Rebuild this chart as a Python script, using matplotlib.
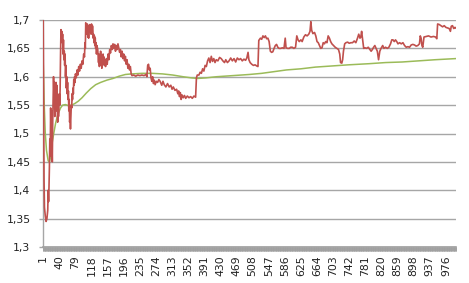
import matplotlib
matplotlib.use("Agg")
import matplotlib.pyplot as plt
import numpy as np
from matplotlib.ticker import FixedLocator

# ---------------- data ----------------
n_points = 1000
x_tick_labels = [str(v) for v in range(1, 1001, 39)]
y_ticks = [1.3, 1.35, 1.4, 1.45, 1.5, 1.55, 1.6, 1.65, 1.7]
y_tick_labels = ["1,3", "1,35", "1,4", "1,45", "1,5", "1,55", "1,6", "1,65", "1,7"]

red_x = [1, 2, 3, 4, 6, 8, 10, 12, 13, 14, 15, 16, 17, 18, 19, 20, 21, 22, 23, 24, 25, 26, 27, 28, 29, 30,
         31, 32, 33, 34, 36, 37, 38, 40, 41, 42, 43, 44, 45, 46, 47, 48, 49, 50, 51, 52, 53, 54, 55, 56, 57,
         58, 59, 60, 61, 62, 63, 64, 65, 66, 67, 68, 69, 70, 71, 72, 73, 74, 75, 76, 77, 78, 79, 81, 83, 85,
         87, 89, 91, 93, 95, 97, 99, 101, 102, 103, 104, 105, 106, 107, 108, 109, 110, 111, 112, 113, 114,
         115, 116, 117, 118, 119, 120, 121, 122, 123, 124, 125, 126, 127, 128, 129, 130, 131, 133, 135, 136,
         137, 138, 139, 140, 141, 142, 143, 144, 145, 146, 147, 148, 149, 150, 152, 154, 156, 158, 160, 162,
         164, 166, 168, 170, 172, 174, 176, 178, 180, 182, 184, 186, 188, 190, 192, 194, 196, 198, 200, 202,
         204, 206, 208, 210, 212, 214, 216, 220, 225, 230, 235, 240, 245, 250, 252, 254, 256, 258, 260, 262,
         264, 266, 268, 270, 272, 275, 278, 281, 284, 288, 291, 294, 298, 302, 306, 310, 313, 316, 320, 324,
         327, 329, 331, 333, 335, 337, 340, 343, 346, 350, 354, 358, 362, 366, 370, 372, 374, 378, 381, 384,
         387, 390, 393, 396, 399, 402, 405, 408, 411, 414, 417, 420, 424, 428, 432, 436, 440, 443, 447, 451,
         455, 459, 463, 467, 471, 475, 479, 483, 487, 491, 494, 497, 499, 502, 506, 510, 514, 518, 521, 523,
         527, 530, 533, 536, 539, 542, 545, 548, 551, 554, 557, 560, 563, 566, 569, 572, 576, 580, 584, 587,
         589, 593, 597, 600, 604, 608, 612, 615, 618, 621, 625, 628, 632, 636, 640, 644, 647, 649, 651, 654,
         658, 661, 664, 667, 670, 673, 676, 679, 682, 685, 688, 691, 694, 697, 700, 704, 708, 712, 716, 719,
         721, 724, 726, 728, 731, 734, 738, 742, 746, 750, 754, 758, 762, 765, 768, 770, 772, 774, 777, 780,
         784, 788, 792, 795, 798, 801, 804, 807, 810, 813, 816, 819, 823, 826, 830, 834, 838, 842, 845, 848,
         851, 854, 857, 860, 864, 868, 872, 876, 880, 884, 888, 892, 896, 900, 904, 908, 912, 914, 916, 918,
         920, 923, 928, 934, 940, 946, 951, 954, 956, 960, 964, 968, 972, 976, 980, 984, 987, 989, 992, 995,
         998, 1000]
red_y = [1.700, 1.560, 1.420, 1.370, 1.355, 1.345, 1.350, 1.365, 1.400, 1.380, 1.405, 1.440, 1.490, 1.460,
         1.545, 1.500, 1.540, 1.490, 1.450, 1.520, 1.560, 1.600, 1.570, 1.590, 1.530, 1.580, 1.560, 1.590,
         1.540, 1.585, 1.520, 1.560, 1.530, 1.570, 1.550, 1.580, 1.640, 1.683, 1.670, 1.680, 1.660, 1.675,
         1.640, 1.665, 1.630, 1.645, 1.620, 1.640, 1.600, 1.620, 1.580, 1.600, 1.570, 1.590, 1.560, 1.575,
         1.540, 1.560, 1.520, 1.530, 1.508, 1.530, 1.550, 1.545, 1.570, 1.560, 1.580, 1.570, 1.595, 1.585,
         1.600, 1.590, 1.605, 1.598, 1.612, 1.603, 1.618, 1.610, 1.622, 1.615, 1.628, 1.622, 1.640, 1.635,
         1.660, 1.650, 1.695, 1.680, 1.690, 1.675, 1.693, 1.670, 1.688, 1.668, 1.690, 1.680, 1.692, 1.683,
         1.690, 1.675, 1.693, 1.678, 1.690, 1.688, 1.668, 1.675, 1.660, 1.672, 1.655, 1.668, 1.650, 1.660,
         1.640, 1.655, 1.648, 1.625, 1.640, 1.618, 1.636, 1.620, 1.645, 1.628, 1.638, 1.615, 1.632, 1.622,
         1.640, 1.625, 1.635, 1.620, 1.630, 1.618, 1.632, 1.622, 1.640, 1.630, 1.648, 1.642, 1.655, 1.648,
         1.658, 1.650, 1.657, 1.645, 1.655, 1.648, 1.658, 1.650, 1.643, 1.648, 1.635, 1.645, 1.632, 1.640,
         1.628, 1.636, 1.622, 1.630, 1.615, 1.622, 1.612, 1.618, 1.605, 1.602, 1.603, 1.601, 1.603, 1.602,
         1.603, 1.602, 1.604, 1.600, 1.620, 1.622, 1.612, 1.615, 1.598, 1.592, 1.600, 1.588, 1.594, 1.586,
         1.592, 1.590, 1.595, 1.592, 1.585, 1.592, 1.586, 1.582, 1.588, 1.582, 1.585, 1.578, 1.582, 1.576,
         1.578, 1.570, 1.575, 1.565, 1.572, 1.560, 1.568, 1.563, 1.567, 1.562, 1.566, 1.563, 1.565, 1.562,
         1.566, 1.564, 1.598, 1.603, 1.603, 1.608, 1.606, 1.614, 1.610, 1.620, 1.618, 1.628, 1.633, 1.625,
         1.636, 1.627, 1.632, 1.625, 1.630, 1.628, 1.634, 1.632, 1.628, 1.625, 1.630, 1.625, 1.628, 1.633,
         1.628, 1.632, 1.626, 1.633, 1.630, 1.632, 1.628, 1.631, 1.629, 1.633, 1.643, 1.630, 1.625, 1.622,
         1.620, 1.621, 1.619, 1.618, 1.664, 1.668, 1.666, 1.672, 1.669, 1.672, 1.667, 1.668, 1.662, 1.645,
         1.643, 1.644, 1.650, 1.655, 1.657, 1.652, 1.650, 1.650, 1.651, 1.650, 1.668, 1.651, 1.650, 1.650,
         1.652, 1.652, 1.650, 1.652, 1.672, 1.665, 1.662, 1.665, 1.662, 1.670, 1.674, 1.672, 1.675, 1.680,
         1.697, 1.682, 1.676, 1.678, 1.672, 1.662, 1.660, 1.655, 1.650, 1.651, 1.660, 1.658, 1.662, 1.660,
         1.672, 1.668, 1.662, 1.658, 1.655, 1.652, 1.650, 1.648, 1.640, 1.625, 1.624, 1.630, 1.645, 1.658,
         1.660, 1.661, 1.659, 1.660, 1.660, 1.663, 1.660, 1.668, 1.675, 1.668, 1.670, 1.680, 1.668, 1.650,
         1.651, 1.650, 1.652, 1.648, 1.645, 1.648, 1.652, 1.655, 1.650, 1.645, 1.630, 1.645, 1.650, 1.655,
         1.650, 1.652, 1.650, 1.652, 1.658, 1.665, 1.665, 1.662, 1.665, 1.662, 1.658, 1.660, 1.658, 1.660,
         1.655, 1.652, 1.653, 1.652, 1.656, 1.657, 1.656, 1.654, 1.655, 1.658, 1.672, 1.668, 1.655, 1.652,
         1.670, 1.671, 1.672, 1.670, 1.671, 1.670, 1.667, 1.693, 1.692, 1.690, 1.688, 1.690, 1.687, 1.686,
         1.685, 1.680, 1.689, 1.690, 1.685, 1.687, 1.686]

green_x = [1, 3, 6, 9, 13, 16, 19, 23, 27, 31, 35, 39, 43, 48, 55, 62, 70, 78, 86, 95, 105, 116, 128, 140,
           155, 170, 185, 200, 215, 240, 265, 290, 315, 340, 360, 375, 395, 420, 460, 500, 530, 560, 590,
           625, 660, 700, 740, 790, 830, 870, 910, 950, 1000]
green_y = [1.626, 1.560, 1.500, 1.470, 1.452, 1.450, 1.460, 1.485, 1.502, 1.518, 1.530, 1.538, 1.545,
           1.550, 1.551, 1.549, 1.550, 1.553, 1.557, 1.563, 1.571, 1.579, 1.586, 1.590, 1.594, 1.597,
           1.601, 1.604, 1.605, 1.606, 1.606, 1.605, 1.603, 1.600, 1.598, 1.597, 1.598, 1.600, 1.602,
           1.604, 1.606, 1.609, 1.612, 1.614, 1.617, 1.619, 1.621, 1.623, 1.625, 1.626, 1.628, 1.630,
           1.632]

# ---------------- figure ----------------
W, H = 469, 283
fig = plt.figure(figsize=(W / 100, H / 100), dpi=100)
ax = fig.add_axes([43 / W, 1 - 247 / H, (456 - 43) / W, (247 - 20) / H])

grid_col = "#A6A6A6"
ax.set_xlim(0.5, n_points + 0.5)
ax.set_ylim(1.3, 1.7)

ax.yaxis.grid(True, color=grid_col, linewidth=1.0)
ax.set_axisbelow(True)

ax.plot(green_x, green_y, color="#9BBB59", linewidth=1.1, zorder=3)
ax.plot(red_x, red_y, color="#C0504D", linewidth=1.2, zorder=4)

for s in ["top", "right"]:
    ax.spines[s].set_visible(False)
ax.spines["left"].set_color(grid_col)
ax.spines["left"].set_linewidth(1.0)
ax.spines["bottom"].set_color("#A0A0A0")
ax.spines["bottom"].set_linewidth(1.2)

ax.set_yticks(y_ticks)
ax.set_yticklabels(y_tick_labels)
ax.tick_params(axis="y", length=3, width=1.0, color=grid_col, pad=6,
               labelsize=7.8, labelcolor="#222222")

label_pos = [int(v) for v in x_tick_labels]
ax.xaxis.set_major_locator(FixedLocator(label_pos))
ax.set_xticklabels(x_tick_labels, rotation=90)
ax.xaxis.set_minor_locator(FixedLocator(np.arange(0.5, n_points + 1, 1.0)))
ax.tick_params(axis="x", which="major", length=0, pad=6, labelsize=7.8, labelcolor="#222222")
ax.tick_params(axis="x", which="minor", length=3.2, width=0.6, color="#A0A0A0")

for t in ax.get_xticklabels() + ax.get_yticklabels():
    t.set_family("DejaVu Sans")

fig.savefig("out.png", dpi=100)
